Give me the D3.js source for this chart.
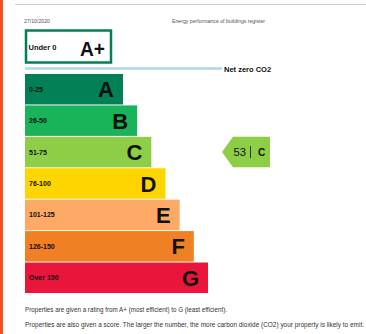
<!DOCTYPE html>
<html><head><meta charset="utf-8">
<script src="https://cdn.jsdelivr.net/npm/d3@7"></script>
<style>html,body{margin:0;padding:0;background:#fff;}svg{display:block;}</style>
</head><body>
<script>
const bands = ["A","B","C","D","E","F","G"];
const ranges = ["0-25","26-50","51-75","76-100","101-125","126-150","Over 150"];
const colors = ["#008054","#19b459","#8dce46","#ffd500","#fcaa65","#ef8023","#e9153b"];
const score = 53;
const scoreBand = "C";
const dateText = "27/10/2020";
const headerText = "Energy performance of buildings register";
const footer = ["Properties are given a rating from A+ (most efficient) to G (least efficient).",
  "Properties are also given a score. The larger the number, the more carbon dioxide (CO2) your property is likely to emit."];

const W = 366, H = 334;
const svg = d3.select("body").append("svg").attr("width", W).attr("height", H);
const font = "'Liberation Sans', Arial, sans-serif";

svg.append("rect").attr("x",0).attr("y",0).attr("width",3).attr("height",H).attr("fill","#f4511e");
svg.append("line").attr("x1",15).attr("x2",W).attr("y1",4.5).attr("y2",4.5).attr("stroke","#d0d0d0").attr("stroke-width",1);

svg.append("text").attr("x",24).attr("y",23).attr("font-family",font).attr("font-size",4.5).attr("fill","#555")
  .attr("textLength",26).attr("lengthAdjust","spacingAndGlyphs").text(dateText);
svg.append("text").attr("x",172).attr("y",23).attr("font-family",font).attr("font-size",4.5).attr("fill","#555")
  .attr("textLength",93).attr("lengthAdjust","spacingAndGlyphs").text(headerText);

// A+ box
svg.append("rect").attr("x",26).attr("y",30.5).attr("width",85).attr("height",32).attr("fill","#fff").attr("stroke","#008054").attr("stroke-width",2.5);
svg.append("text").attr("x",28.5).attr("y",50).attr("font-family",font).attr("font-weight","bold").attr("font-size",7.5).attr("fill","#111").text("Under 0");
svg.append("text").attr("x",80).attr("y",55.5).attr("font-family",font).attr("font-weight","bold").attr("font-size",20).attr("fill","#111")
  .attr("textLength",25).attr("lengthAdjust","spacingAndGlyphs").text("A+");

// net zero line
svg.append("line").attr("x1",25).attr("x2",222).attr("y1",68.5).attr("y2",68.5).attr("stroke","#add8e6").attr("stroke-width",2.5);
svg.append("text").attr("x",224).attr("y",71.5).attr("font-family",font).attr("font-weight","bold").attr("font-size",7.5).attr("fill","#111").text("Net zero CO2");

const y = d3.scaleBand().domain(bands).range([74, 293]).paddingInner(0.03);
const w = d3.scaleLinear().domain([0, 6]).range([98, 183]);
const x0 = 25;

const g = svg.append("g");
bands.forEach((b, i) => {
  const yy = y(b), bh = y.bandwidth(), bw = w(i);
  g.append("rect").attr("x",x0).attr("y",yy).attr("width",bw).attr("height",bh).attr("fill",colors[i]);
  g.append("text").attr("x",x0+4).attr("y",yy+bh/2+2.5).attr("font-family",font).attr("font-weight","bold").attr("font-size",7).attr("fill","#111").text(ranges[i]);
  g.append("text").attr("x",x0+bw-9).attr("y",yy+bh/2+8).attr("text-anchor","end").attr("font-family",font).attr("font-weight","bold").attr("font-size",22).attr("fill","#111").text(b);
});

// score arrow
const ai = bands.indexOf(scoreBand);
const ay = y(scoreBand), ah = y.bandwidth();
const ax = 222, aw = 48, tip = 11;
svg.append("path")
  .attr("d", `M${ax},${ay+ah/2} L${ax+tip},${ay} L${ax+aw},${ay} L${ax+aw},${ay+ah} L${ax+tip},${ay+ah} Z`)
  .attr("fill", colors[ai]);
svg.append("text").attr("x",233.5).attr("y",ay+ah/2+4).attr("font-family",font).attr("font-size",11).attr("fill","#111")
  .attr("textLength",12.5).attr("lengthAdjust","spacingAndGlyphs").text(score);
svg.append("line").attr("x1",250.5).attr("x2",250.5).attr("y1",ay+ah/2-6).attr("y2",ay+ah/2+6).attr("stroke","#333").attr("stroke-width",1);
svg.append("text").attr("x",258).attr("y",ay+ah/2+4).attr("font-family",font).attr("font-weight","bold").attr("font-size",10).attr("fill","#111").text(scoreBand);

svg.append("text").attr("x",25).attr("y",311.5).attr("font-family",font).attr("font-size",6.5).attr("fill","#333")
  .attr("textLength",202).attr("lengthAdjust","spacingAndGlyphs").text(footer[0]);
svg.append("text").attr("x",25).attr("y",327).attr("font-family",font).attr("font-size",6.5).attr("fill","#333")
  .attr("textLength",339).attr("lengthAdjust","spacingAndGlyphs").text(footer[1]);
</script>
</body></html>
